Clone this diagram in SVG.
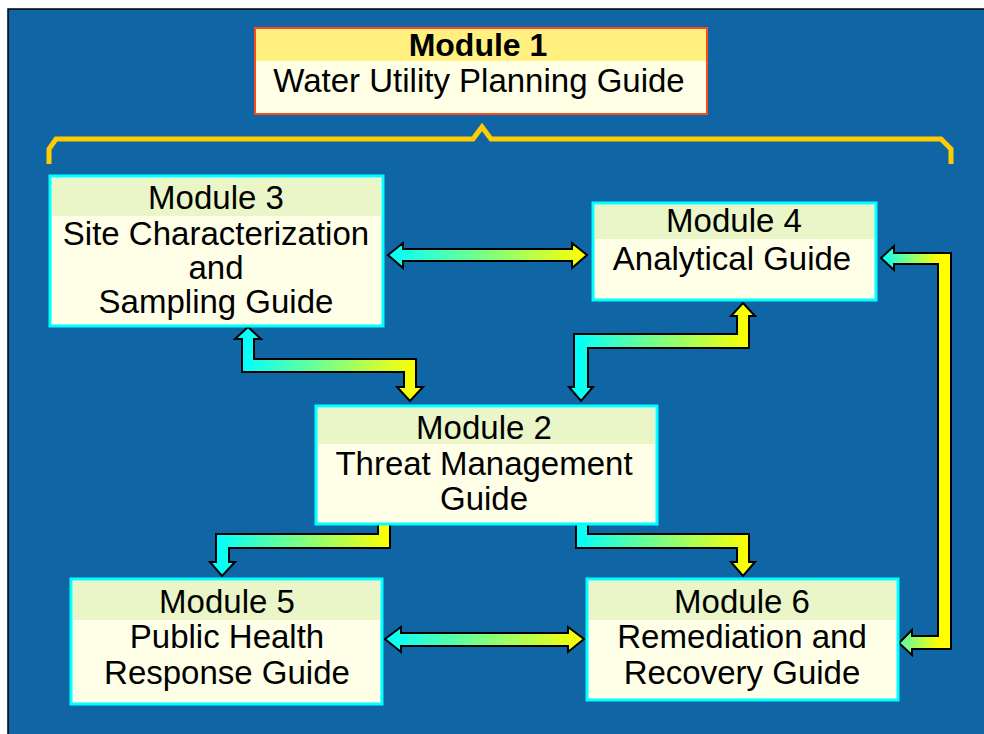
<svg xmlns="http://www.w3.org/2000/svg" width="984" height="734" viewBox="0 0 984 734">
<defs>
<style>
.t{font-family:"Liberation Sans",Arial,sans-serif;font-size:33px;fill:#000;text-anchor:middle}
.b{font-weight:bold;font-size:32px}
.box{fill:#FFFFE8;stroke:#00FFFF;stroke-width:3}
.hdr{fill:#EAF5C8}
.arr{stroke:#000;stroke-width:2;stroke-linejoin:miter}
</style>
<linearGradient id="g34" gradientUnits="userSpaceOnUse" x1="388" y1="0" x2="587" y2="0"><stop offset="0" stop-color="#00FFFF"/><stop offset="1" stop-color="#FFFF00"/></linearGradient>
<linearGradient id="g56" gradientUnits="userSpaceOnUse" x1="385" y1="0" x2="584" y2="0"><stop offset="0" stop-color="#00FFFF"/><stop offset="1" stop-color="#FFFF00"/></linearGradient>
<linearGradient id="g32" gradientUnits="userSpaceOnUse" x1="242" y1="0" x2="416" y2="0"><stop offset="0" stop-color="#00FFFF"/><stop offset="1" stop-color="#FFFF00"/></linearGradient>
<linearGradient id="g24" gradientUnits="userSpaceOnUse" x1="574" y1="0" x2="749" y2="0"><stop offset="0" stop-color="#00FFFF"/><stop offset="1" stop-color="#FFFF00"/></linearGradient>
<linearGradient id="g25" gradientUnits="userSpaceOnUse" x1="216" y1="0" x2="390" y2="0"><stop offset="0" stop-color="#00FFFF"/><stop offset="1" stop-color="#FFFF00"/></linearGradient>
<linearGradient id="g26" gradientUnits="userSpaceOnUse" x1="576" y1="0" x2="749" y2="0"><stop offset="0" stop-color="#00FFFF"/><stop offset="1" stop-color="#FFFF00"/></linearGradient>
<linearGradient id="g46" gradientUnits="userSpaceOnUse" x1="881" y1="0" x2="938" y2="0"><stop offset="0" stop-color="#00FFFF"/><stop offset="1" stop-color="#FFFF00"/></linearGradient>
</defs>
<rect x="0" y="0" width="984" height="734" fill="#FFFFFF"/>
<rect x="8" y="9" width="990" height="740" fill="#1065A5" stroke="#000" stroke-width="1.5"/>
<path d="M49,164 V149 L56,139 H473 L482,127 L491,139 H941 L951,149 V164" fill="none" stroke="#FFCC00" stroke-width="5"/>
<g id="connectors">
<polygon class="arr" fill="url(#g34)" points="388,255 403,243 403,249 572,249 572,243 587,255 572,268 572,261 403,261 403,268"/>
<polygon class="arr" fill="url(#g56)" points="385,639 401,627 401,633 568,633 568,627 584,639 568,652 568,646 401,646 401,652"/>
<polygon class="arr" fill="url(#g32)" points="248,327 261,339 254,339 254,359 416,359 416,387 423,387 410,401 397,387 404,387 404,372 242,372 242,339 235,339"/>
<polygon class="arr" fill="url(#g24)" points="743,303 755,316 749,316 749,348 588,348 588,387 593,387 581,401 569,387 574,387 574,334 737,334 737,316 731,316"/>
<polygon class="arr" fill="url(#g25)" points="378,522 390,522 390,548 229,548 229,562 235,562 222,576 210,562 216,562 216,534 378,534"/>
<polygon class="arr" fill="url(#g26)" points="576,522 588,522 588,534 749,534 749,562 755,562 743,576 731,562 737,562 737,548 576,548"/>
<polygon class="arr" fill="url(#g46)" points="881,258 894,246 894,253 951,253 951,649 912,649 912,655 899,643 912,630 912,636 938,636 938,264 894,264 894,270"/>
</g>
<g id="module1">
<rect x="255" y="28" width="452" height="86" fill="#FFFFE6"/>
<rect x="255" y="28" width="452" height="33" fill="#FFF080"/>
<rect x="255" y="28" width="452" height="86" fill="none" stroke="#FF4A1A" stroke-width="2"/>
<text class="t b" x="478" y="56">Module 1</text>
<text class="t" x="479" y="92">Water Utility Planning Guide</text>
</g>
<g id="module3">
<rect class="box" x="50" y="176" width="333" height="150"/>
<rect class="hdr" x="52" y="178" width="329" height="38"/>
<text class="t" x="216" y="209">Module 3</text>
<text class="t" x="216" y="245">Site Characterization</text>
<text class="t" x="216" y="279">and</text>
<text class="t" x="216" y="313">Sampling Guide</text>
</g>
<g id="module4">
<rect class="box" x="593" y="203" width="283" height="97"/>
<rect class="hdr" x="595" y="205" width="279" height="34"/>
<text class="t" x="734" y="232">Module 4</text>
<text class="t" x="732" y="270">Analytical Guide</text>
</g>
<g id="module2">
<rect class="box" x="316" y="406" width="341" height="118"/>
<rect class="hdr" x="318" y="408" width="337" height="36"/>
<text class="t" x="484" y="439">Module 2</text>
<text class="t" x="484" y="475">Threat Management</text>
<text class="t" x="484" y="510">Guide</text>
</g>
<g id="module5">
<rect class="box" x="71" y="579" width="311" height="125"/>
<rect class="hdr" x="73" y="581" width="307" height="39"/>
<text class="t" x="227" y="613">Module 5</text>
<text class="t" x="227" y="648">Public Health</text>
<text class="t" x="227" y="684">Response Guide</text>
</g>
<g id="module6">
<rect class="box" x="587" y="579" width="311" height="121"/>
<rect class="hdr" x="589" y="581" width="307" height="39"/>
<text class="t" x="742" y="613">Module 6</text>
<text class="t" x="742" y="648">Remediation and</text>
<text class="t" x="742" y="684">Recovery Guide</text>
</g>
</svg>
